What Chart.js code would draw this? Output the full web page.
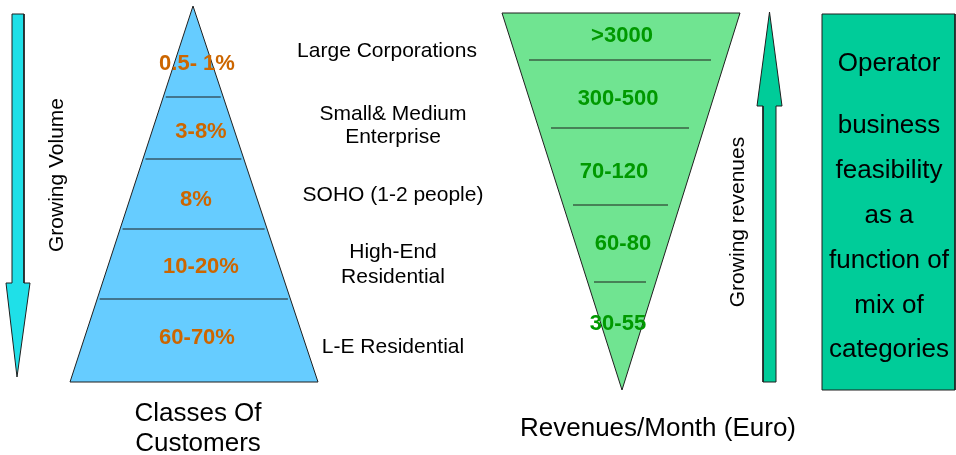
<!DOCTYPE html>
<html>
<head>
<meta charset="utf-8">
<script src="https://cdn.jsdelivr.net/npm/chart.js@4/dist/chart.umd.min.js"></script>
<style>
html, body { margin: 0; padding: 0; background: #fff; }
#wrap { width: 956px; height: 455px; }
</style>
</head>
<body>
<div id="wrap"><canvas id="diagram" width="956" height="455"></canvas></div>
<script>
// ---- data ----
const customerClasses = [['Large Corporations'], ['Small& Medium', 'Enterprise'], ['SOHO (1-2 people)'], ['High-End', 'Residential'], ['L-E Residential']];
const customerShare   = ['0.5- 1%', '3-8%', '8%', '10-20%', '60-70%'];
const revenueBands    = ['>3000', '300-500', '70-120', '60-80', '30-55'];
const feasibilityText = ['Operator', 'business', 'feasibility', 'as a', 'function of', 'mix of', 'categories'];
const leftTitle       = ['Classes Of', 'Customers'];
const rightTitle      = ['Revenues/Month (Euro)'];
const volumeLabel     = 'Growing Volume';
const revenueLabel    = 'Growing revenues';

// ---- layout, in canvas units ----
const PYR        = { apex: [193, 6], baseY: 382, baseL: 70, baseR: 318 };
const PYR_CUTS   = [97, 159, 229, 299];
const PYR_LBL    = [[197, 62], [201, 130], [196, 198], [201, 265], [197, 336]];
const CLASS_Y    = [[49], [112.5, 135.5], [193], [250, 275.5], [345.5]];
const FUNNEL     = { topY: 13, topL: 502, topR: 740, tip: [622, 390] };
const FUNNEL_CUTS = [[60, 529, 711], [128, 551, 689], [205, 573, 668], [282, 594, 646]];
const FUNNEL_LBL = [[622, 33.5], [618, 97], [614, 170], [623, 241.5], [618, 321.5]];
const BOX_Y      = [62, 124, 169, 214, 259, 304, 348];
const TEXT_DY    = 2;   // middle baseline sits a bit high for this font

const FONT = '"Liberation Sans", Arial, Helvetica, sans-serif';
const OUTLINE = '#1f1f1f';

const pt = ([x, y]) => ({ x, y });

function edgeX(y, top, bottom) {
    const t = (y - top[1]) / (bottom[1] - top[1]);
    return top[0] + t * (bottom[0] - top[0]);
}

const pyramid = [PYR.apex, [PYR.baseR, PYR.baseY], [PYR.baseL, PYR.baseY], PYR.apex];
const funnel  = [[FUNNEL.topL, FUNNEL.topY], [FUNNEL.topR, FUNNEL.topY], FUNNEL.tip, [FUNNEL.topL, FUNNEL.topY]];
const downArrow = [[12, 14], [24, 14], [24, 283], [30, 283], [17, 377], [6, 283], [12, 283], [12, 14]];
const upArrow   = [[763, 382], [776, 382], [776, 106], [782, 106], [769.5, 12], [757, 106], [763, 106], [763, 382]];
const box       = [[822, 14], [955, 14], [955, 390], [822, 390], [822, 14]];

// divider segments, separated by gaps
const pyrCuts = [];
PYR_CUTS.forEach(y => {
    pyrCuts.push({ x: edgeX(y, PYR.apex, [PYR.baseL, PYR.baseY]) + 2.5, y });
    pyrCuts.push({ x: edgeX(y, PYR.apex, [PYR.baseR, PYR.baseY]) - 2.5, y });
    pyrCuts.push({ x: null, y: null });
});
const funnelCuts = [];
FUNNEL_CUTS.forEach(([y, a, b]) => {
    funnelCuts.push({ x: a, y }, { x: b, y }, { x: null, y: null });
});

function shape(points, color) {
    return {
        data: points.map(pt),
        showLine: true,
        fill: 'shape',
        backgroundColor: color,
        borderColor: OUTLINE,
        borderWidth: 1,
        pointRadius: 0,
        tension: 0,
        clip: false,
        order: 2,
    };
}

function rule(points) {
    return {
        data: points,
        showLine: true,
        fill: false,
        spanGaps: false,
        borderColor: OUTLINE,
        borderWidth: 1.2,
        pointRadius: 0,
        clip: false,
        order: 1,
    };
}

const textPlugin = {
    id: 'diagramText',
    afterDatasetsDraw(chart) {
        const { ctx, scales: { x, y } } = chart;
        const put = (txt, px, py, font, color) => {
            ctx.font = font;
            ctx.fillStyle = color;
            ctx.fillText(txt, x.getPixelForValue(px), y.getPixelForValue(py + TEXT_DY));
        };
        const putUp = (txt, px, py, font, color) => {
            ctx.save();
            ctx.translate(x.getPixelForValue(px + TEXT_DY), y.getPixelForValue(py));
            ctx.rotate(-Math.PI / 2);
            ctx.font = font;
            ctx.fillStyle = color;
            ctx.fillText(txt, 0, 0);
            ctx.restore();
        };
        ctx.save();
        ctx.textAlign = 'center';
        ctx.textBaseline = 'middle';

        customerShare.forEach((s, i) => put(s, PYR_LBL[i][0], PYR_LBL[i][1], `bold 22px ${FONT}`, '#cc6600'));
        revenueBands.forEach((s, i) => put(s, FUNNEL_LBL[i][0], FUNNEL_LBL[i][1], `bold 22px ${FONT}`, '#009900'));
        customerClasses.forEach((lines, i) =>
            lines.forEach((s, j) => put(s, i === 0 ? 387 : 393, CLASS_Y[i][j], `21px ${FONT}`, '#000')));
        leftTitle.forEach((s, i) => put(s, 198, 411.5 + i * 30, `26px ${FONT}`, '#000'));
        rightTitle.forEach((s, i) => put(s, 658, 427 + i * 30, `26px ${FONT}`, '#000'));
        feasibilityText.forEach((s, i) => put(s, 889, BOX_Y[i], `26px ${FONT}`, '#000'));
        putUp(volumeLabel, 55, 175, `21px ${FONT}`, '#000');
        putUp(revenueLabel, 736, 222, `21px ${FONT}`, '#000');
        ctx.restore();
    }
};

new Chart(document.getElementById('diagram'), {
    type: 'scatter',
    data: {
        datasets: [
            rule(pyrCuts),
            rule(funnelCuts),
            shape(downArrow, '#1fe0e8'),
            shape(pyramid, '#66ccff'),
            shape(funnel, '#70e491'),
            shape(upArrow, '#00cc99'),
            shape(box, '#00cc99'),
        ]
    },
    options: {
        responsive: false,
        animation: false,
        layout: { padding: 0 },
        scales: {
            x: { type: 'linear', min: 0, max: 956, display: false },
            y: { type: 'linear', min: 0, max: 455, reverse: true, display: false },
        },
        plugins: {
            legend: { display: false },
            tooltip: { enabled: false },
        },
    },
    plugins: [textPlugin],
});
</script>
</body>
</html>
